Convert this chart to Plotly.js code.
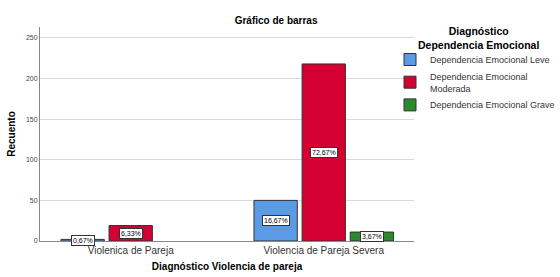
<!DOCTYPE html>
<html>
<head>
<meta charset="utf-8">
<script src="https://cdn.plot.ly/plotly-3.0.1.min.js"></script>
<style>html,body{margin:0;padding:0;background:#fff;}#chart{width:560px;height:277px;}</style>
</head>
<body>
<div id="chart"></div>
<script>
var categories = ["Violenica de Pareja", "Violencia de Pareja Severa"];
var seriesNames = ["Dependencia Emocional Leve", "Dependencia Emocional<br>Moderada", "Dependencia Emocional Grave"];
var leve = [2, 50];
var moderada = [19, 218];
var grave = [null, 11];
var leveText = ["0,67%", "16,67%"];
var moderadaText = ["6,33%", "72,67%"];
var graveText = [null, "3,67%"];
var yTicks = [0, 50, 100, 150, 200, 250];
var legendTitle = "Diagnóstico<br>Dependencia Emocional";

var colors = ["#5b9be6", "#d40032", "#2b8a2b"];
var allValues = [leve, moderada, grave];
var allTexts = [leveText, moderadaText, graveText];

var traces = allValues.map(function(vals, j){
  return {
    type: "bar", x: categories, y: vals, name: seriesNames[j],
    marker: {color: colors[j], line: {color: "#333333", width: 1}},
    hoverinfo: "none"
  };
});

var slot = 0.249;
var annotations = [];
allValues.forEach(function(vals, j){
  vals.forEach(function(v, i){
    if (v === null || allTexts[j][i] === null) return;
    annotations.push({
      x: i + (j - 1) * slot, y: v / 2, xref: "x", yref: "y",
      text: allTexts[j][i], showarrow: false,
      font: {family: "Liberation Sans, Arial", size: 7, color: "#000"},
      bgcolor: "#ffffff", bordercolor: "#333333", borderwidth: 1, borderpad: 1
    });
  });
});

var L = 40, R = 0, T = 27, B = 36, plotRight = 417;
var paperW = 560 - L - R, paperH = 277 - T - B;
function px2x(p){ return (p - L) / paperW; }
function px2y(p){ return (277 - B - p) / paperH; }

annotations.push({
  xref: "paper", yref: "paper", x: px2x(482), y: px2y(38),
  xanchor: "center", yanchor: "middle", align: "center",
  text: "<b>" + legendTitle + "</b>", showarrow: false,
  font: {size: 10.5, color: "#000"}
});

var layout = {
  width: 560, height: 277,
  margin: {l: L, r: R, t: T, b: B},
  paper_bgcolor: "#ffffff", plot_bgcolor: "#ffffff",
  font: {family: "Liberation Sans, Arial, sans-serif", color: "#333"},
  title: {text: "<b>Gráfico de barras</b>", x: 0.493, xanchor: "center", y: 0.925, yanchor: "middle",
          font: {size: 10, color: "#000"}},
  barmode: "group", bargap: 0.252, bargroupgap: 0.1,
  xaxis: {
    type: "category", range: [-0.47, 1.468],
    domain: [0, (plotRight - L) / paperW],
    showline: true, linecolor: "#888888", linewidth: 1,
    ticks: "", tickfont: {size: 10, color: "#333"},
    title: {text: "<b>Diagnóstico Violencia de pareja</b>", font: {size: 10, color: "#000"}, standoff: 7}
  },
  yaxis: {
    range: [0, 263.5], tickvals: yTicks,
    showline: true, linecolor: "#888888", linewidth: 1,
    showgrid: true, gridcolor: "#d9d9d9", gridwidth: 1, zeroline: false,
    ticks: "", tickfont: {size: 7, color: "#444"},
    title: {text: "<b>Recuento</b>", font: {size: 10, color: "#000"}, standoff: 8}
  },
  legend: {
    x: px2x(393), xanchor: "left", y: px2y(45), yanchor: "top",
    font: {size: 9, color: "#333"},
    itemwidth: 30, tracegroupgap: 0,
    bgcolor: "rgba(0,0,0,0)"
  },
  annotations: annotations,
  showlegend: true
};

Plotly.newPlot("chart", traces, layout, {displayModeBar: false, staticPlot: true});
</script>
</body>
</html>
